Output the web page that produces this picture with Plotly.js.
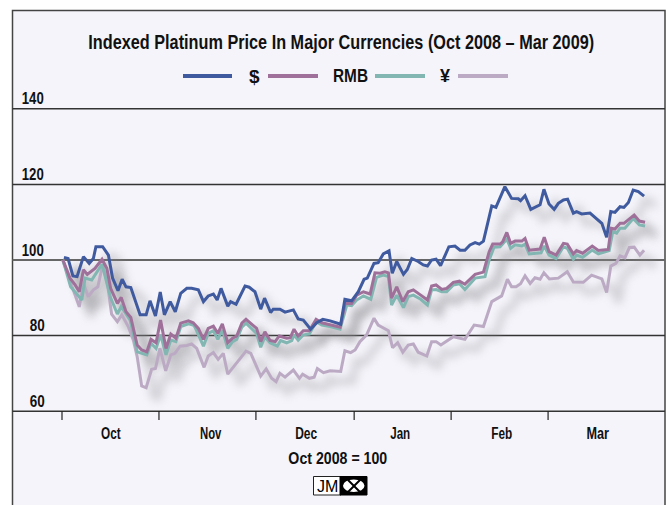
<!DOCTYPE html>
<html><head><meta charset="utf-8">
<script src="https://cdn.plot.ly/plotly-3.0.1.min.js"></script>
<style>html,body{margin:0;padding:0;background:#fff}#c{width:667px;height:505px}</style></head>
<body><div id="c"></div>
<script>
// Days counted from the start of October 2008; index with Oct 2008 = 100
const dollarDays=[0.6,1.9,3.4,4.7,6.7,8.5,9.8,10.6,12.7,14.5,15.8,17.5,18.8,20,21.5,24.4,26.3,27.5,29.2,30.7,32,33.8,35.4,37.1,39,40.5,42.6,44.2,45.7,47.3,48.5,49.7,51.8,52.7,54.4,57.2,58.5,60.3,62.1,63.3,65.2,66,68.1,69.7,72.3,73.8,75.4,77.7,79.6,81.5,83.8,87.1,88.4,90.5,92.6,94.4,95.4,97.5,98.8,100.4,102.2,103.2,104.6,106.7,107.9,109.3,111.3,112.9,114.2,115.5,116.9,118.3,120.9,122.8,124.4,125.9,127.5,129.1,130.4,131.7,134.3,135.6,138.4,140.5,142.6,143.3,144.7,146.5,149.4,150.6,152.2,153.8,155.1,156.7,158,159.8,160.8,162.4,165,166.6,168.7,170.2,171.5,172.8,174.4,175.6,177,178.5,180.1,181.9];
const dollarVals=[100.7,100.4,95.8,95.6,100.9,99.1,100.4,103.5,103.5,101.3,95.2,91.9,94.9,92.9,92.7,85.5,85.5,89.2,85.2,91.5,85.5,89,86.3,91.2,92.5,92.5,92.1,89,90.5,91,89.4,92.5,87.8,89,88.3,93.1,92.8,91.6,87,89.9,86.1,87,87,86.2,86.8,84.4,84.1,81.7,83.4,84.3,83.9,83,89.6,89.2,91.6,94.9,95.2,99.1,99.3,101.6,102.4,96.5,99.6,96.2,97.5,100.4,99.6,98.7,98.4,100,100.2,98.5,103.5,103.7,102.6,102.6,104,104.6,104.2,105,114.3,113.9,119.4,116.3,116.2,115.7,117,113.4,114.6,118.7,114.8,113.4,115,115.9,116.1,112.4,112.8,112.2,112.4,111.3,109.7,106,112.8,112.6,114.1,113.9,115.2,118.5,118.1,116.9];
const rmbDays=[0.3,2.5,4.1,5.4,6.7,7.9,10.3,12.5,14,15.2,17.3,18.5,20,21.5,23.5,24.9,26.5,27.8,29.4,30.8,32.5,34,35.6,37.1,39.5,41,42.6,44.2,45.7,47.3,48.7,50.1,51.8,53.3,54.6,56.2,57.5,60.8,62.1,63.4,65,66.6,67.9,70.2,71.3,72.5,73.8,75.4,77.3,79.4,81.2,83.8,86.9,88.5,90.5,92.1,94.2,96.3,97.8,99.4,100.9,102,103,104.6,106.5,108.2,109.8,112.1,114.2,115.5,116.9,118.7,120.2,122.3,124.2,125.9,129.1,131.7,133.5,134.6,136.9,137.7,139,140.2,141.6,143.7,144.7,146,149.4,150.7,152.2,154.4,156.7,157.9,159.8,160.8,162.7,165.7,167.6,170.7,171.6,172.8,174.4,175.6,178.8,180.4,182.2];
const rmbVals=[100,95.2,93.4,91.6,97.4,96.2,97.8,100.2,97.8,92.5,88.5,90.1,86.3,84.8,77.5,76.2,75.7,79,78.1,84.1,76.6,80.4,79.3,83.3,83.9,83.4,81.9,79,81.9,82.5,80.6,83.1,78.1,79.3,79.9,83.3,84.3,81.9,78.4,81,78.7,78.4,79.9,79.3,79.4,81.7,79.9,81.3,81.3,84.3,83.4,82.8,82.2,88.5,88.5,90.7,91.6,91,96.6,96.5,96.9,96.6,89.9,92.9,89,91.6,92.1,90.7,89.4,93.1,93.4,92.2,92.5,94.1,94.4,93.6,96.2,96.8,102.2,104.2,104.2,104.8,107.3,104.4,105,105,105.7,102.6,102.9,106,102.2,101.3,104.4,104.2,101.6,102.5,101.8,103.7,102.5,102.8,108.4,108.2,109.7,109.7,111.9,110.3,110];
const euroDays=[0.3,2.7,6.2,7.2,9.3,12.5,15.2,17.3,18.5,21.3,23.5,26.5,27.8,29.4,30.8,32.5,34,35.6,37.1,39.5,41,41.6,44.2,45.7,47.3,48.7,50.1,51.8,53.3,54.6,56.2,57.5,60.8,62.1,63.4,65,67.3,68.3,70.2,71.8,72.5,73.8,75.4,77.3,79.4,81.2,83.8,86.9,89,90.5,92.1,94.2,96.5,98.3,100.4,102,103,104.6,106.7,108.2,109.8,112.1,114.2,115.5,116.9,118.7,120.2,122.3,124.2,125.9,129.1,132.2,133.5,135,136.9,139,140.2,141.6,143.7,144.7,146,149.7,150.7,152.2,154.4,156.7,157.9,159.8,160.8,162.7,165.7,167.6,171,172.1,173.3,174.4,175.9,178.5,180.4,182.2];
const euroVals=[100,92.9,89.4,95.2,94.7,98.9,90,85.7,87.7,84.1,75.7,74.9,78,76.6,80.2,74.9,78.8,78.4,82.4,83.1,82.8,82.2,77.2,80.6,81.3,79,81.5,76.6,78.4,79,82.2,83.3,80.6,76.9,79.7,78.1,77.2,78.7,78.1,78.7,80.2,78.8,80.2,80.4,83.7,82.8,82.4,81.7,88.1,87.9,89.4,90.5,89.6,95.4,96,95.6,88.1,90.7,87.4,90.3,90.7,89.6,88.1,92.1,92.2,91.6,91.6,93.4,93.7,92.2,95.2,95.6,100,103.4,103.5,105.5,103.1,104,103.7,104.2,101.6,101.9,103.7,101.3,100.4,103.5,103.1,100.2,101.3,100.7,102.6,101.6,102.5,107.5,107.1,108.4,108.4,111,109.3,109];
const yenDays=[0.2,2.7,5.4,6.7,8.2,9.8,11.2,12.7,14.2,15.5,17.3,18.7,20.7,22.3,23.5,24.9,26.3,28,29.2,30.6,32.4,34,35.3,36.9,39,40.5,42.1,44.4,45.7,47.3,48.8,50.4,51.8,57.5,59,62.1,63.8,65.5,66.9,68.1,69.7,72.3,74.2,75.2,77.3,78.8,79.8,81.7,83.8,87.1,88.4,90.2,91.6,93.1,95.2,97.5,98.8,102,103.3,104.9,106.5,108.2,109.8,111.3,114,115.5,116.9,118.4,122.3,125.9,128.8,131.7,133.5,134.3,137.4,139.2,140.5,141.9,143.3,144.7,146.3,147.8,149.4,150.6,152.3,155.1,157.9,159.8,162.9,165.5,168.7,170.2,171.5,173.1,174.4,175.9,177.3,178.8,180.6,181.9];
const yenVals=[100,94.3,87.6,93.8,90.3,92.1,92.9,98.7,93.8,85.7,83.7,85.5,82.4,78.8,74.4,66.7,66.2,71.1,71.3,76.6,70.7,74.9,75.3,77.2,77.4,77.8,76.6,71.6,74.6,75.5,73.7,75.3,69.8,75.9,75.3,69.3,71.2,68.7,67.8,70,69,70.9,68.7,69.8,68.7,69,71.3,70.2,70.7,70.5,76,75.5,76.2,78.4,80.2,84.6,82.8,81.3,76.8,78.1,75.6,77.5,77.8,75.6,74.6,78.4,78.4,77.5,79.7,79,82.8,82.4,87,89,90.5,94.9,92.9,92.9,93.7,95.8,93.8,95.3,94.9,96.6,95,95.2,96.9,94.2,94.1,96,95,91.4,98.4,99.1,101.1,100.6,103.3,103.4,101.3,102.6];
const monthLabels=['Oct','Nov','Dec','Jan','Feb','Mar'];
const monthCentres=[15.3,46.6,76.3,105.6,137.2,167.5];
const monthStarts=[0,30.3,60.6,91.3,121.6,151.9];
const yTicks=[60,80,100,120,140];
const colors=['#3f5a9f','#9f7099','#82b6b2','#bcaac4'];
const font='"Liberation Sans",Arial,sans-serif';
const textWidths={'Indexed Platinum Price In Major Currencies (Oct 2008 – Mar 2009)':506,'RMB':35,'Oct 2008 = 100':99,'Oct':20,'Nov':22,'Dec':22,'Jan':20,'Feb':21,'Mar':23,'60':15,'80':15,'100':22,'120':22,'140':22};

const sets=[[yenDays,yenVals,colors[3]],[euroDays,euroVals,colors[2]],[rmbDays,rmbVals,colors[1]],[dollarDays,dollarVals,colors[0]]];
const shadow=sets.map(s=>({x:s[0].map(d=>d+3.7),y:s[1].map(a=>a-2.65),mode:'lines',line:{color:'#8c8c90',width:7},opacity:.33,hoverinfo:'skip',showlegend:false}));
const lines=sets.map(s=>({x:s[0],y:s[1],mode:'lines',line:{color:s[2],width:3},hoverinfo:'skip',showlegend:false}));

const ann=[];
const t=(x,y,text,size)=>ann.push({xref:'paper',yref:'paper',x:x/667,y:1-y/505,text:text,showarrow:false,xanchor:'center',yanchor:'middle',font:{family:font,size:size||16,color:'#111',weight:700}});
t(341,42.5,'Indexed Platinum Price In Major Currencies (Oct 2008 – Mar 2009)',20);
t(254,76,'$',19);t(350.5,76,'RMB',18);t(445.5,76,'¥',18);
t(337.5,458,'Oct 2008 = 100',16);
yTicks.forEach(v=>ann.push({xref:'paper',yref:'y',x:(v<100?36.5:33)/667,y:v,text:String(v),showarrow:false,xanchor:'center',yanchor:'middle',yshift:10.5,font:{family:font,size:16.5,color:'#111',weight:700}}));
monthLabels.forEach((m,i)=>ann.push({xref:'x',yref:'paper',x:monthCentres[i],y:1-432.5/505,text:m,showarrow:false,xanchor:'center',yanchor:'middle',font:{family:font,size:16.5,color:'#111',weight:700}}));
ann.push({xref:'paper',yref:'paper',x:327/667,y:1-486/505,text:'JM',showarrow:false,xanchor:'center',yanchor:'middle',font:{family:font,size:16,color:'#000'}});

const px=(a,b,c,d,col,w)=>({type:'line',xref:'paper',yref:'paper',x0:a/667,x1:c/667,y0:1-b/505,y1:1-d/505,line:{color:col,width:w||1}});
const shapes=[
 {type:'rect',xref:'paper',yref:'paper',x0:12.5/667,x1:665/667,y0:-0.02,y1:1-10.5/505,fillcolor:'#f4f4fa',line:{color:'#444',width:1.5},layer:'below'},
 px(183,76,232,76,colors[0],4),px(268,76,318,76,colors[1],4),px(375,76,425,76,colors[2],4),px(458,76,508,76,colors[3],4),
 {type:'rect',xref:'paper',yref:'paper',x0:313.5/667,x1:341/667,y0:1-495/505,y1:1-476.5/505,fillcolor:'#fff',line:{color:'#222',width:1}},
 {type:'rect',xref:'paper',yref:'paper',x0:340/667,x1:367/667,y0:1-495/505,y1:1-476.5/505,fillcolor:'#000',line:{color:'#000',width:1}},
 {type:'circle',xref:'paper',yref:'paper',x0:343/667,x1:364.5/667,y0:1-492/505,y1:1-479.5/505,fillcolor:'#fff',line:{width:0}},
 px(348,480,360,492,'#000',2),px(360,480,348,492,'#000',2)
];
yTicks.forEach(v=>shapes.push({type:'line',xref:'paper',yref:'y',x0:12.5/667,x1:665/667,y0:v,y1:v,line:{color:v===100?'#666':'#333',width:v===100?2:1.5},layer:'below'}));
monthStarts.forEach(d=>shapes.push({type:'line',xref:'x',yref:'paper',x0:d,x1:d,y0:1-411/505,y1:1-420/505,line:{color:'#222',width:1.2}}));

const pxPerDay=3.2,pxPerUnit=3.78,zeroX=62,y100=260;
Plotly.newPlot('c',[...shadow,...lines],{
 width:667,height:505,margin:{l:0,r:0,t:0,b:0},paper_bgcolor:'#fff',plot_bgcolor:'rgba(0,0,0,0)',showlegend:false,
 xaxis:{range:[-zeroX/pxPerDay,(667-zeroX)/pxPerDay],visible:false},
 yaxis:{range:[100-(505-y100)/pxPerUnit,100+y100/pxPerUnit],visible:false},
 annotations:ann,shapes:shapes
},{displayModeBar:false,staticPlot:true}).then(()=>{
 document.querySelectorAll('.scatterlayer .trace').forEach((g,i)=>{if(i<4)g.style.filter='blur(4px)'});
 document.querySelectorAll('.annotation-text').forEach(e=>{
  const w=textWidths[e.textContent];
  if(w){
   const b=e.getBBox(),cx=b.x+b.width/2,k=w/b.width;
   e.setAttribute('transform','translate('+cx+' 0) scale('+k+' 1) translate('+(-cx)+' 0)');
  }
 });
});
</script></body></html>
